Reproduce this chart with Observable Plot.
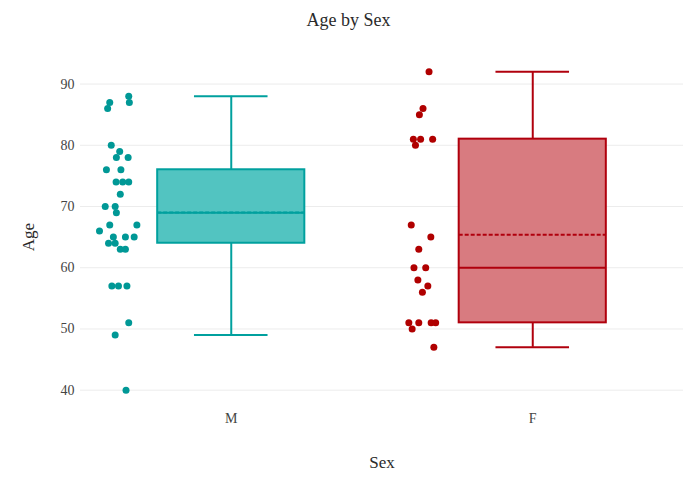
<!DOCTYPE html>
<html><head><meta charset="utf-8">
<script src="https://cdn.jsdelivr.net/npm/d3@7"></script>
<script src="https://cdn.jsdelivr.net/npm/@observablehq/plot@0.6"></script>
<style>
body{margin:0;background:#fff;font-family:"Liberation Serif","Times New Roman",serif;}
#title{height:40px;line-height:40px;text-align:center;font-size:18px;color:#2a2a2a;}
#chart svg text{font-family:"Liberation Serif","Times New Roman",serif;}
</style></head><body>
<div id="title">Age by Sex</div>
<div id="chart"></div>
<script>
// ---- data ----
const sexes = ["M", "F"];
const mAges = [88, 87, 87, 86, 80, 79, 78, 78, 76, 76, 74, 74, 74, 72, 70, 70, 69, 67, 67, 66, 65, 65, 65, 64, 64, 63, 63, 57, 57, 57, 51, 49, 40];
const mJitter = [0.030, 0.032, -0.033, -0.040, -0.028, 0.000, -0.011, 0.028, -0.044, 0.004, -0.012, 0.010, 0.030, 0.002, -0.048, -0.015, -0.011, -0.033, 0.057, -0.067, -0.021, 0.019, 0.048, -0.037, -0.015, 0.002, 0.019, -0.026, -0.004, 0.024, 0.030, -0.015, 0.021];
const fAges = [92, 86, 85, 81, 81, 81, 80, 67, 65, 63, 60, 60, 58, 57, 56, 51, 51, 51, 51, 50, 47];
const fJitter = [0.026, 0.006, -0.006, -0.026, -0.002, 0.038, -0.019, -0.033, 0.032, -0.008, -0.024, 0.015, -0.011, 0.022, 0.004, -0.041, -0.008, 0.033, 0.048, -0.030, 0.042];
const yTicks = [40, 50, 60, 70, 80, 90];

// ---- styles ----
const colors = {
  M: {line: "#00a09e", fill: "#52c4c1", dot: "#009896"},
  F: {line: "#b0000d", fill: "#d87b80", dot: "#b00000"}
};
const boxHalf = 0.244, capHalf = 0.122, ptOffset = -0.37;

// ---- derived tables ----
const groups = [
  {sex: "M", ages: mAges, jitter: mJitter},
  {sex: "F", ages: fAges, jitter: fJitter}
];
const stats = groups.map(g => {
  const s = g.ages.slice().sort(d3.ascending);
  const q1 = d3.quantile(s, 0.25), med = d3.quantile(s, 0.5), q3 = d3.quantile(s, 0.75);
  const iqr = q3 - q1;
  const lo = d3.min(s.filter(v => v >= q1 - 1.5 * iqr));
  const hi = d3.max(s.filter(v => v <= q3 + 1.5 * iqr));
  const pos = sexes.indexOf(g.sex);
  return {sex: g.sex, pos, q1, med, q3, lo, hi, mean: d3.mean(s)};
});
const points = groups.flatMap(g => g.ages.map((a, i) => ({
  sex: g.sex, age: a, x: sexes.indexOf(g.sex) + ptOffset + g.jitter[i]
})));
const col = k => d => colors[d.sex][k];

const chart = Plot.plot({
  width: 697,
  height: 445,
  marginTop: 16,
  marginBottom: 80,
  marginLeft: 80,
  marginRight: 14,
  style: {fontFamily: '"Liberation Serif","Times New Roman",serif', fontSize: "14px", color: "#444", background: "#fff"},
  x: {type: "linear", domain: [-0.5, 1.5], ticks: [0, 1], tickFormat: i => sexes[i], tickSize: 0, tickPadding: 8, label: null},
  y: {domain: [37.5, 94.5], ticks: yTicks, tickSize: 0, tickPadding: 6, label: null},
  marks: [
    Plot.ruleY(yTicks, {stroke: "#ececec", strokeWidth: 1}),
    // whiskers
    Plot.ruleX(stats, {x: "pos", y1: "lo", y2: "q1", stroke: col("line"), strokeWidth: 2}),
    Plot.ruleX(stats, {x: "pos", y1: "q3", y2: "hi", stroke: col("line"), strokeWidth: 2}),
    Plot.ruleY(stats, {y: "lo", x1: d => d.pos - capHalf, x2: d => d.pos + capHalf, stroke: col("line"), strokeWidth: 2}),
    Plot.ruleY(stats, {y: "hi", x1: d => d.pos - capHalf, x2: d => d.pos + capHalf, stroke: col("line"), strokeWidth: 2}),
    // box
    Plot.rect(stats, {x1: d => d.pos - boxHalf, x2: d => d.pos + boxHalf, y1: "q1", y2: "q3", fill: col("fill"), stroke: col("line"), strokeWidth: 2}),
    Plot.ruleY(stats, {y: "med", x1: d => d.pos - boxHalf, x2: d => d.pos + boxHalf, stroke: col("line"), strokeWidth: 2}),
    Plot.ruleY(stats, {y: "mean", x1: d => d.pos - boxHalf, x2: d => d.pos + boxHalf, stroke: col("line"), strokeWidth: 2, strokeDasharray: "4,2"}),
    // points
    Plot.dot(points, {x: "x", y: "age", r: 3.5, fill: col("dot"), stroke: "none"}),
    // axis titles
    Plot.text(["Age"], {text: d => d, frameAnchor: "left", textAnchor: "middle", dx: -52, dy: 6, rotate: -90, fontSize: 17, fill: "#2a2a2a"}),
    Plot.text(["Sex"], {text: d => d, frameAnchor: "bottom", dy: 62, fontSize: 17, fill: "#2a2a2a"})
  ]
});
document.getElementById("chart").appendChild(chart);
</script>
</body></html>
